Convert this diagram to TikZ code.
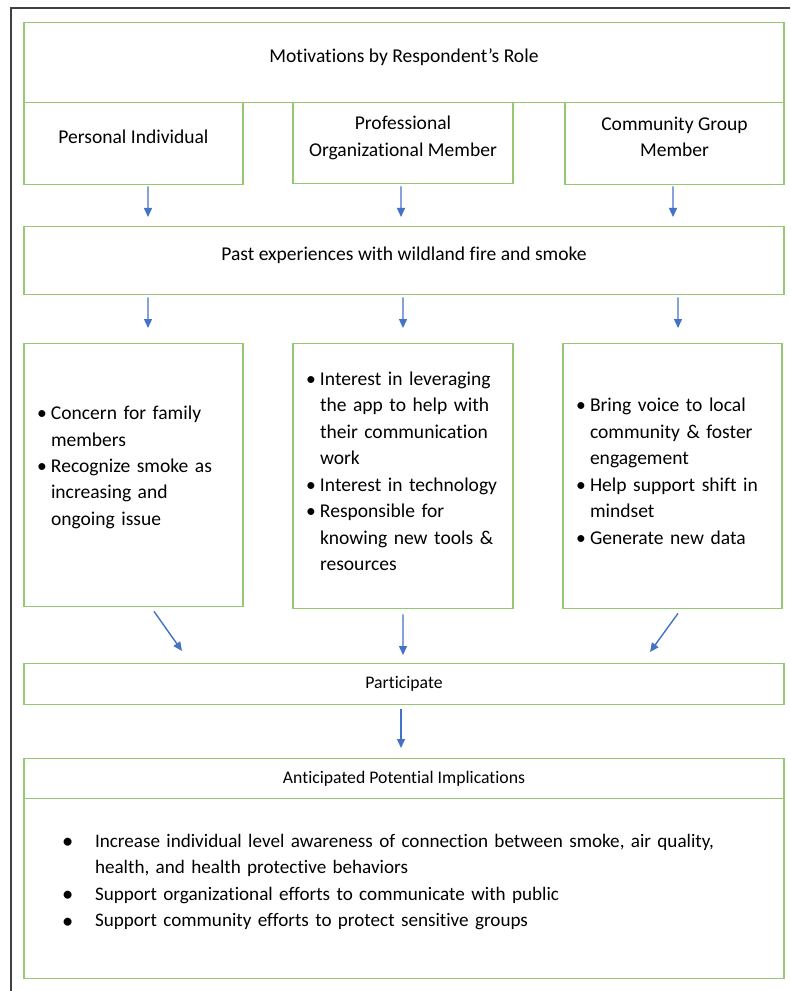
\documentclass[tikz,border=0pt]{standalone}
\usepackage{fontspec}
\setmainfont{Carlito}[Ligatures=NoCommon]
\usepackage{tikz}
\usepackage{xcolor}
\usetikzlibrary{arrows.meta, positioning}
\definecolor{boxgreen}{RGB}{150, 200, 115}
\definecolor{arrowblue}{RGB}{68, 114, 196}
\definecolor{framegray}{RGB}{64, 64, 64}
\newcommand{\mainsize}{\fontsize{13.9}{18.8}\selectfont}
\newcommand{\implsize}{\fontsize{13.6}{18.9}\selectfont}
\newcommand{\smallsize}{\fontsize{12.6}{16}\selectfont}
\newcommand{\pointlist}[1]{\noindent\begin{tabular}[b]{@{}p{0.35cm}@{}l@{}}#1\end{tabular}}
\newcommand{\bigdot}{\raisebox{-0.06em}{\fontsize{16}{16}\selectfont\textbullet}}
\newcommand{\impllist}[1]{\noindent\begin{tabular}[b]{@{}p{0.825cm}@{}l@{}}#1\end{tabular}}
\tikzset{
    box/.style={
        rectangle, draw=boxgreen, line width=1pt, fill=white, text=black,
        font=\mainsize, align=center, inner sep=0pt, anchor=north
    },
    headbox/.style={box, text depth=0.35cm},
    smallbox/.style={box, font=\smallsize},
    listbox/.style={box, align=left, inner xsep=0.325cm, text depth=0.375cm},
    implbox/.style={box, font=\implsize, align=left, inner xsep=0.95cm, text width=17.1cm, text depth=0.55cm},
    arrow/.style={-{Triangle[length=0.225cm, width=0.2cm]}, line width=1pt, color=arrowblue},
    frame/.style={draw=framegray, line width=1.4pt},
}

\begin{document}
\begin{tikzpicture}
    \useasboundingbox (0,0) rectangle (19.75,-24.775);
    \draw[frame] (0.275,-24.775) -- (0.275,-0.2) -- (19.75,-0.2);

    \node[headbox, minimum width=19cm, minimum height=2cm] (motivations) at (10.1,-0.55) {Motivations by Respondent’s Role};

    \node[headbox, minimum width=5.475cm, minimum height=2.05cm] (personal) at (3.3375,-2.55) {Personal Individual};
    \node[headbox, minimum width=5.5cm, minimum height=2.025cm] (professional) at (10.075,-2.55) {Professional\\Organizational Member};
    \node[headbox, minimum width=5.475cm, minimum height=2.05cm] (community) at (16.8625,-2.55) {Community Group\\Member};

    \node[headbox, minimum width=19cm, minimum height=1.7cm] (past) at (10.1,-5.65) {Past experiences with wildland fire and smoke};

    \node[listbox, text width=4.825cm, minimum height=6.575cm, text depth=0.6cm] (concern) at (3.3375,-8.575) {\pointlist{%
        \textbullet & Concern for family\\ & members\\
        \textbullet & Recognize smoke as\\ & increasing and\\ & ongoing issue}};
    \node[listbox, text width=4.85cm, minimum height=6.625cm] (interest) at (10.075,-8.575) {\pointlist{%
        \textbullet & Interest in leveraging\\ & the app to help with\\ & their communication\\ & work\\
        \textbullet & Interest in technology\\
        \textbullet & Responsible for\\ & knowing new tools \&\\ & resources}};
    \node[listbox, text width=4.825cm, minimum height=6.625cm] (voice) at (16.8125,-8.575) {\pointlist{%
        \textbullet & Bring voice to local\\ & community \& foster\\ & engagement\\
        \textbullet & Help support shift in\\ & mindset\\
        \textbullet & Generate new data}};

    \node[smallbox, minimum width=19cm, minimum height=1.025cm] (participate) at (10.1,-16.575) {Participate};

    \node[smallbox, minimum width=19cm, minimum height=1cm] (implhead) at (10.1,-18.95) {Anticipated Potential Implications};
    \node[implbox, minimum height=4.5cm] (impl) at (10.1,-19.95) {\impllist{%
        \bigdot & Increase individual level awareness of connection between smoke, air quality,\\ & health, and health protective behaviors\\
        \bigdot & Support organizational efforts to communicate with public\\
        \bigdot & Support community efforts to protect sensitive groups}};

    \draw[arrow] ([xshift=0.3625cm, yshift=-0.025cm]personal.south) -- ([xshift=-6.4cm, yshift=0.225cm]past.north);
    \draw[arrow] ([xshift=-0.05cm, yshift=-0.05cm]professional.south) -- ([xshift=-0.075cm, yshift=0.225cm]past.north);
    \draw[arrow] ([xshift=-0.0375cm, yshift=-0.025cm]community.south) -- ([xshift=6.725cm, yshift=0.225cm]past.north);

    \draw[arrow] ([xshift=-6.4cm, yshift=-0.05cm]past.south) -- ([xshift=0.3625cm, yshift=0.375cm]concern.north);
    \draw[arrow] ([xshift=-0.025cm, yshift=-0.05cm]past.south) -- ([yshift=0.375cm]interest.north);
    \draw[arrow] ([xshift=6.85cm, yshift=-0.05cm]past.south) -- ([xshift=0.1375cm, yshift=0.375cm]voice.north);

    \draw[arrow] ([xshift=0.5125cm, yshift=-0.1cm]concern.south) -- ([xshift=-5.55cm, yshift=0.3cm]participate.north);
    \draw[arrow] ([yshift=-0.125cm]interest.south) -- ([xshift=-0.025cm, yshift=0.2cm]participate.north);
    \draw[arrow] ([xshift=0.1375cm, yshift=-0.1cm]voice.south) -- ([xshift=6.15cm, yshift=0.275cm]participate.north);

    \draw[arrow] ([xshift=-0.075cm, yshift=-0.1cm]participate.south) -- ([xshift=-0.075cm, yshift=0.25cm]implhead.north);
\end{tikzpicture}
\end{document}
